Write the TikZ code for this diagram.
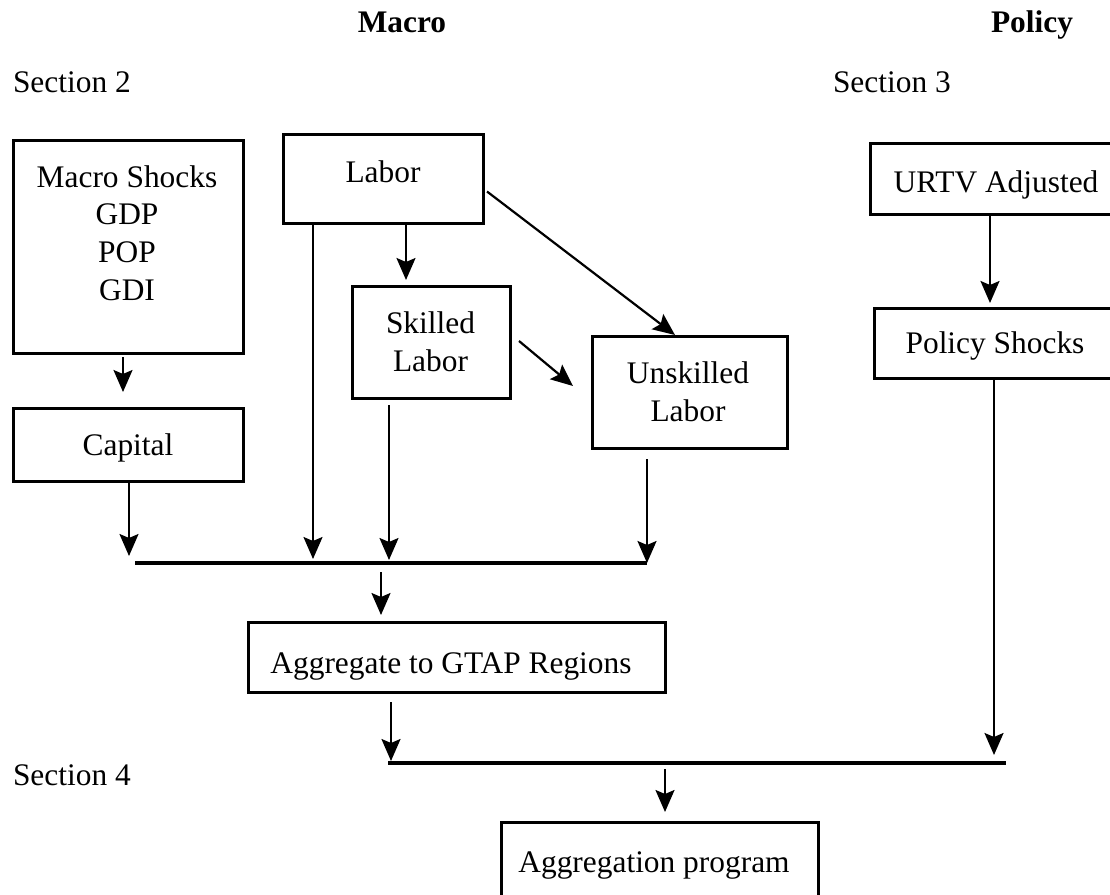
\documentclass[tikz,border=0pt]{standalone}
\usepackage{fontspec}
\setmainfont{Liberation Serif}
\usetikzlibrary{arrows.meta}
\tikzset{
 box/.style={draw, line width=3pt, inner sep=0pt, outer sep=0pt},
 lbl/.style={inner sep=0pt, outer sep=0pt, anchor=base, font=\fontsize{31.4}{37.7}\selectfont},
 hdr/.style={lbl, font=\fontsize{31.4}{37.7}\selectfont\bfseries},
 arr/.style={line width=2.2pt, -{Stealth[length=22pt,width=19pt,inset=4pt]}},
 bar/.style={line width=3.2pt},
}
\begin{document}
\begin{tikzpicture}[x=1pt,y=-1pt]
\useasboundingbox (0,0) rectangle (1110,894);
\clip (0,0) rectangle (1110,894);
% headings
\node[hdr] (hmacro) at (402,32) {Macro};
\node[hdr] (hpolicy) at (1032,32) {Policy};
\node[lbl, anchor=base west] (s2) at (13,92) {Section 2};
\node[lbl, anchor=base west] (s3) at (833,92) {Section 3};
\node[lbl, anchor=base west] (s4) at (13,785) {Section 4};
% boxes
\node[box, minimum width=230pt, minimum height=213pt] (macro) at (128,246.5) {};
\node[box, minimum width=230pt, minimum height=73pt] (capital) at (128,444.5) {};
\node[box, minimum width=200pt, minimum height=89pt] (labor) at (383,178.5) {};
\node[box, minimum width=158pt, minimum height=112pt] (skilled) at (431,342) {};
\node[box, minimum width=195pt, minimum height=112pt] (unskilled) at (689.5,392) {};
\node[box, minimum width=417pt, minimum height=70pt] (agg) at (456.5,657) {};
\node[box, minimum width=317pt, minimum height=90pt] (prog) at (659.5,867) {};
\node[box, minimum width=252pt, minimum height=71pt] (urtv) at (996,178.5) {};
\node[box, minimum width=242pt, minimum height=70pt] (policy) at (995,343) {};
% texts
\node[lbl] (tm1) at (127,187) {Macro Shocks};
\node[lbl] (tm2) at (127,224.7) {GDP};
\node[lbl] (tm3) at (127,262.4) {POP};
\node[lbl] (tm4) at (127,300.1) {GDI};
\node[lbl] (tcap) at (128,455) {Capital};
\node[lbl] (tlab) at (383,182) {Labor};
\node[lbl] (tsk1) at (430.5,333) {Skilled};
\node[lbl] (tsk2) at (430.5,371) {Labor};
\node[lbl] (tun1) at (688,383) {Unskilled};
\node[lbl] (tun2) at (688,421) {Labor};
\node[lbl] (tagg) at (451,673) {Aggregate to GTAP Regions};
\node[lbl] (tprog) at (654,872) {Aggregation program};
\node[lbl] (turtv) at (996,192) {URTV Adjusted};
\node[lbl] (tpol) at (995,353) {Policy Shocks};
% junction coordinates
\coordinate (b1l) at (135,563);
\coordinate (b1r) at (647,563);
\coordinate (b1m) at (381,572);
\coordinate (b2l) at (388,763);
\coordinate (b2r) at (1006,763);
\coordinate (b2m) at (665,769);
\coordinate (tc) at (129,556);
\coordinate (tl) at (313,559);
\coordinate (ts) at (389,560);
\coordinate (ta) at (391,761);
\coordinate (tp) at (994,755);
% connectors
\draw[arr] ([xshift=-5pt,yshift=-4pt]macro.south) -- ([xshift=-5pt,yshift=16pt]capital.north);
\draw[arr] ([xshift=1pt,yshift=-1pt]capital.south) -- (tc);
\draw[arr] ([xshift=-70pt]labor.south) -- (tl);
\draw[arr] ([xshift=23pt]labor.south) -- ([xshift=-25pt,yshift=6pt]skilled.north);
\draw[arr] ([xshift=4pt,yshift=-13pt]labor.east) -- ([xshift=-14.5pt,yshift=1pt]unskilled.north);
\draw[arr] ([xshift=9pt,yshift=1pt]skilled.east) -- ([xshift=-19pt,yshift=6pt]unskilled.west);
\draw[arr] ([xshift=-42pt,yshift=-7pt]skilled.south) -- (ts);
\draw[arr] ([xshift=-42.5pt,yshift=-11pt]unskilled.south) -- (b1r);
\draw[bar] (b1l) -- (b1r);
\draw[arr] (b1m) -- ([xshift=-75.5pt,yshift=7pt]agg.north);
\draw[arr] ([xshift=-65.5pt,yshift=-10pt]agg.south) -- (ta);
\draw[bar] (b2l) -- (b2r);
\draw[arr] ([xshift=-6pt]urtv.south) -- ([xshift=-5pt,yshift=5pt]policy.north);
\draw[arr] ([xshift=-1pt]policy.south) -- (tp);
\draw[arr] (b2m) -- ([xshift=5.5pt,yshift=10pt]prog.north);
\end{tikzpicture}
\end{document}
